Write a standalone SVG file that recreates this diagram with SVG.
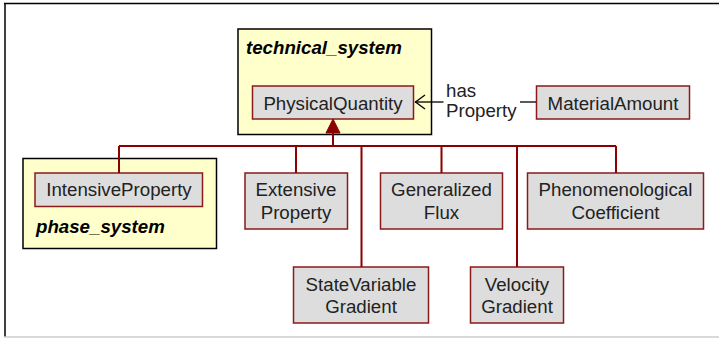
<svg xmlns="http://www.w3.org/2000/svg" width="719" height="338" viewBox="0 0 719 338">
<style>
.pkg{fill:#FFFFCC;stroke:#000;stroke-width:1.5}
.cls{fill:#DDDDDD;stroke:#8B1A1A;stroke-width:1.5}
.t{font-family:"Liberation Sans",Arial,sans-serif;font-size:18.7px;fill:#222}
.ttl{font-family:"Liberation Sans",Arial,sans-serif;font-size:18.7px;font-weight:bold;font-style:italic;fill:#000}
.gen{fill:none;stroke:#8B0000;stroke-width:2}
</style>
<rect x="0" y="0" width="719" height="338" fill="#fff"/>
<line x1="4" y1="3.5" x2="719" y2="3.5" stroke="#000" stroke-width="1.5"/>
<line x1="5" y1="3" x2="5" y2="337" stroke="#000" stroke-width="1.5"/>
<line x1="4" y1="337" x2="719" y2="337" stroke="#ccc" stroke-width="1.5"/>
<g id="technical_system">
<rect class="pkg" x="238" y="29" width="193.5" height="105.5"/>
<text class="ttl" x="246" y="54">technical_system</text>
</g>
<g id="phase_system">
<rect class="pkg" x="23" y="158.5" width="193.5" height="90"/>
<text class="ttl" x="36" y="233">phase_system</text>
</g>
<g id="PhysicalQuantity">
<rect class="cls" x="252.5" y="86" width="161" height="33"/>
<text class="t" x="333" y="110" text-anchor="middle">PhysicalQuantity</text>
</g>
<g id="MaterialAmount">
<rect class="cls" x="536.5" y="86" width="153" height="33"/>
<text class="t" x="613" y="110" text-anchor="middle">MaterialAmount</text>
</g>
<g id="IntensiveProperty">
<rect class="cls" x="35" y="173" width="167.5" height="33.5"/>
<text class="t" x="119" y="196" text-anchor="middle">IntensiveProperty</text>
</g>
<g id="ExtensiveProperty">
<rect class="cls" x="245" y="173" width="102.5" height="56"/>
<text class="t" x="296" y="196" text-anchor="middle">Extensive</text>
<text class="t" x="296" y="218.5" text-anchor="middle">Property</text>
</g>
<g id="GeneralizedFlux">
<rect class="cls" x="380.5" y="173" width="122" height="56"/>
<text class="t" x="441.5" y="196" text-anchor="middle">Generalized</text>
<text class="t" x="441.5" y="218.5" text-anchor="middle">Flux</text>
</g>
<g id="PhenomenologicalCoefficient">
<rect class="cls" x="527.5" y="173" width="176" height="56"/>
<text class="t" x="615.5" y="196" text-anchor="middle">Phenomenological</text>
<text class="t" x="615.5" y="218.5" text-anchor="middle">Coefficient</text>
</g>
<g id="StateVariableGradient">
<rect class="cls" x="293.5" y="267" width="135" height="56"/>
<text class="t" x="361" y="290.5" text-anchor="middle">StateVariable</text>
<text class="t" x="361" y="312.5" text-anchor="middle">Gradient</text>
</g>
<g id="VelocityGradient">
<rect class="cls" x="470.5" y="267" width="93" height="56"/>
<text class="t" x="517" y="290.5" text-anchor="middle">Velocity</text>
<text class="t" x="517" y="312.5" text-anchor="middle">Gradient</text>
</g>
<g id="connectors">
<path class="gen" d="M333 132V146M119 146H616M119 146V173M296 146V173M361.5 146V267M441.5 146V173M517 146V267M616 146V173"/>
<polygon points="333,119 326,133 340,133" fill="#8B0000" stroke="#8B0000" stroke-width="1"/>
<line x1="536" y1="102" x2="520" y2="102" stroke="#000" stroke-width="1.3"/>
<line x1="443.5" y1="102" x2="415" y2="102" stroke="#000" stroke-width="1.3"/>
<polyline points="425,95 415.5,102 425,109" fill="none" stroke="#000" stroke-width="1.3"/>
<text class="t" x="446" y="97">has</text>
<text class="t" x="446" y="117">Property</text>
</g>
</svg>
